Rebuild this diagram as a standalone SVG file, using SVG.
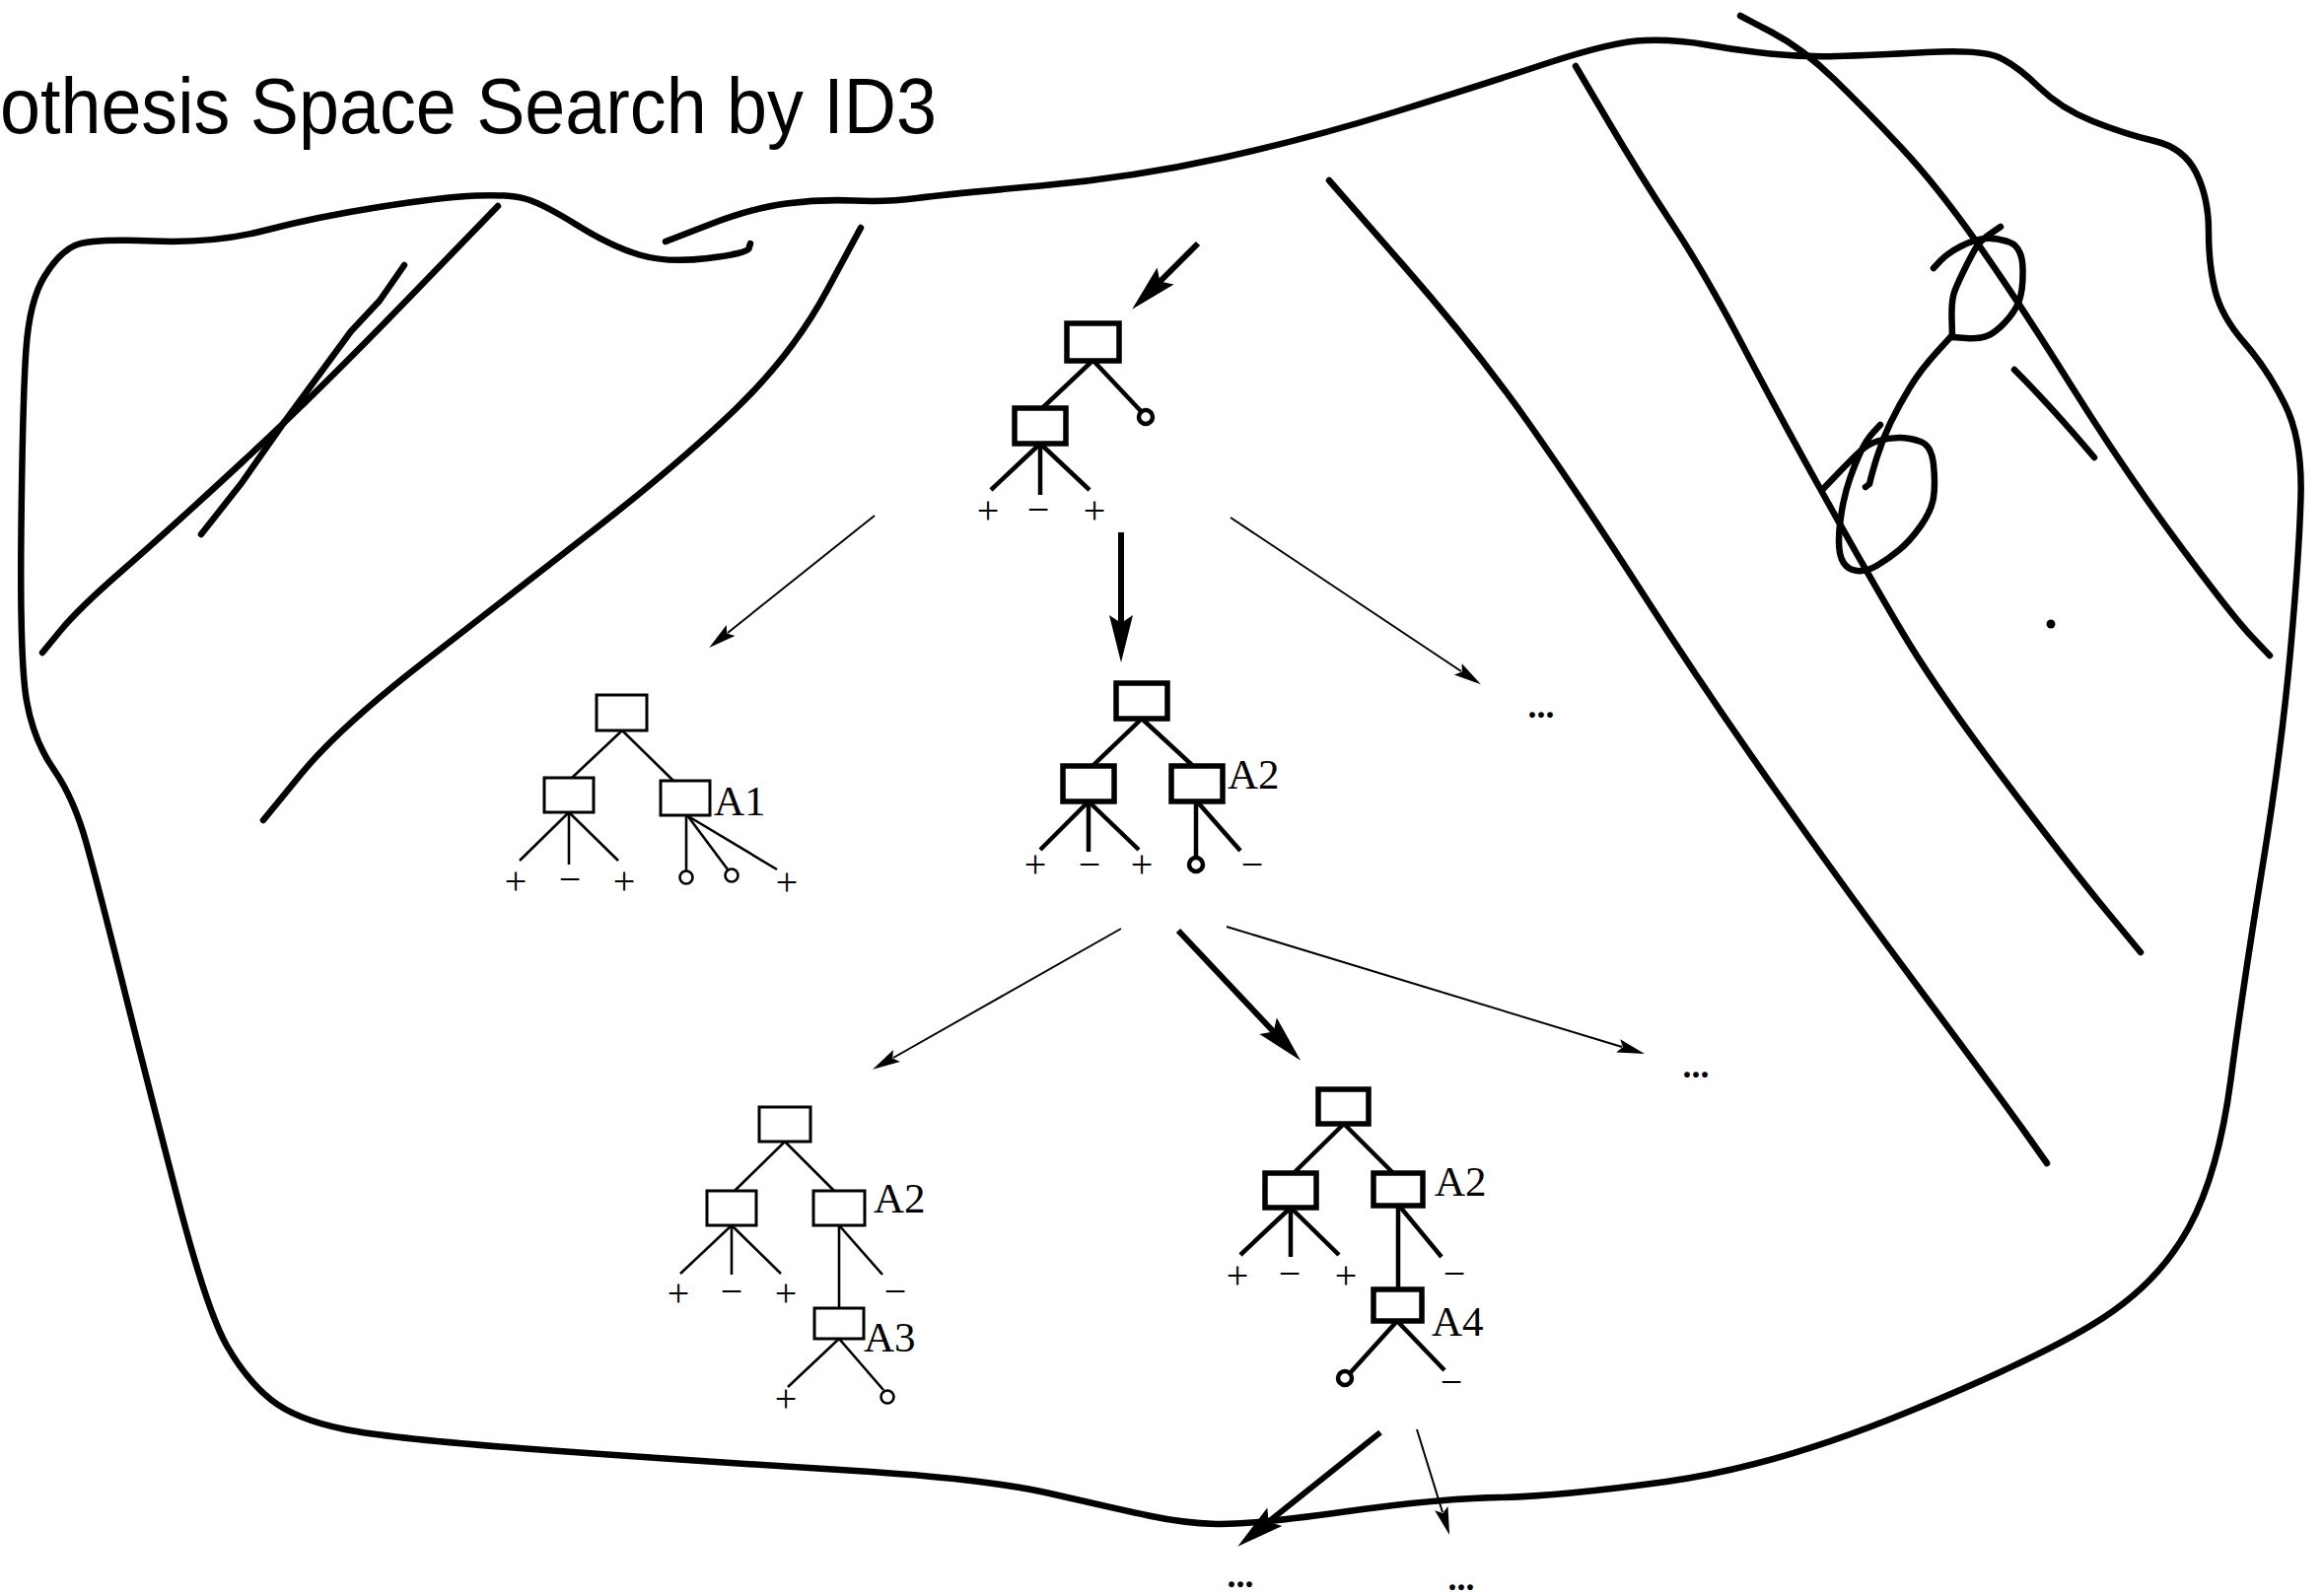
<svg xmlns="http://www.w3.org/2000/svg" width="2356" height="1619" viewBox="0 0 2356 1619">
<style>
.ol{fill:none;stroke:#000;stroke-width:6.5;stroke-linecap:round;stroke-linejoin:round}
.tk rect{fill:#fff;stroke:#000;stroke-width:5.5}
.tk line{stroke:#000;stroke-width:4.5}
.tk circle{fill:#fff;stroke:#000;stroke-width:4.5}
.tn rect{fill:#fff;stroke:#000;stroke-width:3}
.tn line{stroke:#000;stroke-width:2.6}
.tn circle{fill:#fff;stroke:#000;stroke-width:2.6}
.lb{font-family:"Liberation Serif",serif;font-size:40px;text-anchor:middle}
.nm{font-family:"Liberation Serif",serif;font-size:43px}
.dots{font-family:"Liberation Serif",serif;font-size:36px;font-weight:bold;text-anchor:middle}
.thin{stroke:#000;stroke-width:2;fill:none;marker-end:url(#ahThin)}
.thick{stroke:#000;stroke-width:6;fill:none;marker-end:url(#ahThick)}
</style>
<defs>
<marker id="ahThin" markerUnits="userSpaceOnUse" markerWidth="30" markerHeight="16" refX="4" refY="7" orient="auto" overflow="visible"><path d="M0,0 L28,7 L0,14 L5,7 z" fill="#000"/></marker>
<marker id="ahThick" markerUnits="userSpaceOnUse" markerWidth="50" markerHeight="26" refX="10" refY="12" orient="auto" overflow="visible"><path d="M0,0 L48,12 L0,24 L8,12 z" fill="#000"/></marker>
</defs>
<rect width="2356" height="1619" fill="#fff"/>
<g id="title"><text x="0" y="135" font-family="'Liberation Sans',Arial,sans-serif" font-size="80" textLength="950" lengthAdjust="spacingAndGlyphs">othesis Space Search by ID3</text></g>
<g id="sketch">
<path class="ol" d="M761,247 L759.5,252 Q758,257 717.5,262 Q677,267 648.5,258.5 Q620,250 585.5,228.5 Q551,207 534,202 Q517,197 482.5,198.5 Q448,200 384.5,210 Q321,220 269.5,233.5 Q218,247 155,244.5 Q92,242 76,249 Q60,256 45,280.5 Q30,305 26.5,354 Q23,403 21.5,537 Q20,671 27,711 Q34,751 54.5,780.5 Q75,810 87.5,855 Q100,900 125,1000 Q150,1100 180,1215 Q210,1330 230,1365 Q250,1400 275,1420 Q300,1440 350,1450 Q400,1460 560,1471.5 Q720,1483 860,1491.5 Q1000,1500 1065,1515 Q1130,1530 1165,1537.5 Q1200,1545 1233.5,1546 Q1267,1547 1363.5,1533.5 Q1460,1520 1520,1519 Q1580,1518 1690,1503 Q1800,1488 1937,1431.5 Q2074,1375 2132,1337.5 Q2190,1300 2220,1245 Q2250,1190 2262.5,1095 Q2275,1000 2294.5,880 Q2314,760 2323,660 Q2332,560 2333.5,503 Q2335,446 2317.5,410.5 Q2300,375 2276.5,348 Q2253,321 2246.5,294.5 Q2240,268 2240,234.5 Q2240,201 2227.5,175.5 Q2215,150 2185,143 Q2155,136 2122.5,123 Q2090,110 2068,88.5 Q2046,67 2028,58.5 Q2010,50 1954,53 Q1898,56 1863,57 Q1828,58 1795,54.5 Q1762,51 1731,45.5 Q1700,40 1668,41 Q1636,42 1568,64.5 Q1500,87 1415,113.5 Q1330,140 1240,160 Q1150,180 1055,188.5 Q960,197 930,201 Q900,205 866,203.5 Q832,202 797.5,206.5 Q763,211 719,228 L675,245"/>
<path class="ol" d="M505,209 L413,304 Q321,399 246.5,468 Q172,537 126,577 Q80,617 61.5,639.5 L43,662"/>
<path class="ol" d="M410,269 L385,305 356,336 320,385 287,430 245,490 204,542"/>
<path class="ol" d="M873,231 L838.5,295 Q804,359 746.5,414.5 Q689,470 603,537 Q517,604 430.5,671 Q344,738 305.5,785 L267,832"/>
<path class="ol" d="M1348,183 L1424,270 Q1500,357 1554.5,435 Q1609,513 1669,606.5 Q1729,700 1799.5,800 Q1870,900 1950,1007.5 Q2030,1115 2053,1147.5 L2076,1180"/>
<path class="ol" d="M1598,67 L1631,123 Q1664,179 1696.5,228 Q1729,277 1767.5,350.5 Q1806,424 1849.5,502 Q1893,580 1928.5,640 Q1964,700 2032,790 Q2100,880 2135.5,923 L2171,966"/>
<path class="ol" d="M1765,16 L1796.5,32.5 Q1828,49 1860.5,80.5 Q1893,112 1928.5,150 Q1964,188 2005,246 Q2046,304 2100.5,391 Q2155,478 2209.5,551.5 Q2264,625 2283,645 L2302,665"/>
<path class="ol" d="M1961,272 L1968,264.5 Q1975,257 1988.5,250 Q2002,243 2013,242 Q2024,241 2037.5,245.5 Q2051,250 2051.5,272.5 Q2052,295 2047.5,306 Q2043,317 2033.5,327 Q2024,337 2016,340.5 Q2008,344 1994,343 L1980,342"/>
<path class="ol" d="M1980,342 L1979.5,323 Q1979,304 1982.5,295 Q1986,286 1994,270 Q2002,254 2006,248.5 Q2010,243 2019.5,236.5 L2029,230"/>
<path class="ol" d="M1980,340 L1964,357.5 Q1948,375 1937,393 Q1926,411 1917.5,428.5 Q1909,446 1903.5,464 Q1898,482 1896,491 L1892,494"/>
<path class="ol" d="M1849,496 L1860,484.5 Q1871,473 1882,462 Q1893,451 1904,447.5 Q1915,444 1926,444 Q1937,444 1948,448 Q1959,452 1961,471.5 Q1963,491 1961,504.5 Q1959,518 1948,533.5 Q1937,549 1926,558 Q1915,567 1904,573.5 Q1893,580 1883.5,579 Q1874,578 1869.5,570.5 Q1865,563 1865,549.5 Q1865,536 1868,518 Q1871,500 1876.5,484.5 Q1882,469 1887.5,457.5 Q1893,446 1900,438.5 L1907,431"/>
<path class="ol" d="M2043,375 Q2080,412 2124,464"/>
<circle cx="2080" cy="633" r="4.5" fill="#000"/>
</g>
<g id="connectors">
<line class="thick" x1="1215" y1="247" x2="1175" y2="287"/>
<line class="thin" x1="887" y1="523" x2="738" y2="642"/>
<line class="thick" x1="1137" y1="540" x2="1137" y2="634"/>
<line class="thin" x1="1248" y1="525" x2="1482" y2="681"/>
<line class="thin" x1="1137" y1="942" x2="906" y2="1073"/>
<line class="thick" x1="1195" y1="944" x2="1293" y2="1048"/>
<line class="thin" x1="1244" y1="940" x2="1645" y2="1062"/>
<line class="thick" x1="1400" y1="1453" x2="1285" y2="1545"/>
<line class="thin" x1="1437" y1="1450" x2="1463" y2="1534"/>
</g>
<g id="tree0" class="tk">
<line x1="1108" y1="366" x2="1057" y2="414"/>
<line x1="1109" y1="366" x2="1157" y2="417"/>
<line x1="1055" y1="450" x2="1005" y2="497"/>
<line x1="1055" y1="450" x2="1055" y2="502"/>
<line x1="1055" y1="450" x2="1105" y2="497"/>
<rect x="1082" y="328" width="53" height="38"/>
<rect x="1029" y="414" width="52" height="36"/>
<circle cx="1162" cy="423" r="7"/>
<text class="lb" x="1002" y="531">+</text><text class="lb" x="1053" y="530">−</text><text class="lb" x="1110" y="531">+</text>
</g>
<g id="tree1" class="tn">
<line x1="631" y1="741" x2="580" y2="789"/>
<line x1="631" y1="741" x2="683" y2="792"/>
<line x1="577" y1="824" x2="527" y2="873"/>
<line x1="577" y1="824" x2="577" y2="877"/>
<line x1="577" y1="824" x2="627" y2="873"/>
<line x1="696" y1="827" x2="696" y2="883"/>
<line x1="697" y1="827" x2="738" y2="882"/>
<line x1="698" y1="828" x2="788" y2="882"/>
<rect x="605" y="705" width="51" height="36"/>
<rect x="552" y="789" width="50" height="35"/>
<rect x="670" y="792" width="50" height="35"/>
<circle cx="696" cy="890" r="6.5"/>
<circle cx="742" cy="888" r="6.5"/>
<text class="lb" x="523" y="907">+</text><text class="lb" x="578" y="905">−</text><text class="lb" x="633" y="907">+</text><text class="lb" x="798" y="908">+</text>
<text class="nm" x="724" y="827">A1</text>
</g>
<g id="tree2" class="tk">
<line x1="1158" y1="729" x2="1108" y2="777"/>
<line x1="1158" y1="729" x2="1210" y2="777"/>
<line x1="1104" y1="813" x2="1055" y2="862"/>
<line x1="1104" y1="813" x2="1104" y2="864"/>
<line x1="1104" y1="813" x2="1155" y2="862"/>
<line x1="1213" y1="813" x2="1213" y2="869"/>
<line x1="1214" y1="813" x2="1258" y2="863"/>
<rect x="1132" y="693" width="52" height="36"/>
<rect x="1078" y="777" width="52" height="36"/>
<rect x="1188" y="777" width="52" height="36"/>
<circle cx="1213" cy="877" r="7"/>
<text class="lb" x="1050" y="890">+</text><text class="lb" x="1105" y="890">−</text><text class="lb" x="1158" y="890">+</text><text class="lb" x="1270" y="890">−</text>
<text class="nm" x="1245" y="800">A2</text>
</g>
<g id="tree3" class="tn">
<line x1="796" y1="1158" x2="745" y2="1208"/>
<line x1="796" y1="1158" x2="846" y2="1208"/>
<line x1="742" y1="1243" x2="690" y2="1292"/>
<line x1="742" y1="1243" x2="742" y2="1293"/>
<line x1="742" y1="1243" x2="792" y2="1292"/>
<line x1="851" y1="1243" x2="851" y2="1327"/>
<line x1="851" y1="1243" x2="895" y2="1293"/>
<line x1="851" y1="1358" x2="799" y2="1407"/>
<line x1="851" y1="1358" x2="896" y2="1410"/>
<rect x="770" y="1123" width="52" height="35"/>
<rect x="717" y="1208" width="50" height="35"/>
<rect x="825" y="1208" width="52" height="35"/>
<rect x="826" y="1327" width="50" height="31"/>
<circle cx="900" cy="1417" r="6.5"/>
<text class="lb" x="688" y="1325">+</text><text class="lb" x="742" y="1323">−</text><text class="lb" x="797" y="1325">+</text><text class="lb" x="908" y="1323">−</text><text class="lb" x="797" y="1432">+</text>
<text class="nm" x="886" y="1230">A2</text>
<text class="nm" x="876" y="1371">A3</text>
</g>
<g id="tree4" class="tk">
<line x1="1363" y1="1140" x2="1312" y2="1190"/>
<line x1="1363" y1="1140" x2="1413" y2="1190"/>
<line x1="1309" y1="1225" x2="1258" y2="1273"/>
<line x1="1309" y1="1225" x2="1309" y2="1275"/>
<line x1="1309" y1="1225" x2="1358" y2="1273"/>
<line x1="1418" y1="1223" x2="1418" y2="1308"/>
<line x1="1419" y1="1223" x2="1462" y2="1275"/>
<line x1="1417" y1="1340" x2="1370" y2="1392"/>
<line x1="1417" y1="1340" x2="1465" y2="1390"/>
<rect x="1337" y="1105" width="51" height="35"/>
<rect x="1283" y="1190" width="52" height="35"/>
<rect x="1393" y="1190" width="50" height="33"/>
<rect x="1393" y="1308" width="49" height="32"/>
<circle cx="1364" cy="1398" r="7"/>
<text class="lb" x="1255" y="1307">+</text><text class="lb" x="1308" y="1305">−</text><text class="lb" x="1365" y="1307">+</text><text class="lb" x="1475" y="1305">−</text><text class="lb" x="1472" y="1415">−</text>
<text class="nm" x="1455" y="1213">A2</text>
<text class="nm" x="1452" y="1355">A4</text>
</g>
<g id="ellipses">
<text class="dots" x="1563" y="728">...</text>
<text class="dots" x="1720" y="1093">...</text>
<text class="dots" x="1258" y="1610">...</text>
<text class="dots" x="1482" y="1613">...</text>
</g>
</svg>
